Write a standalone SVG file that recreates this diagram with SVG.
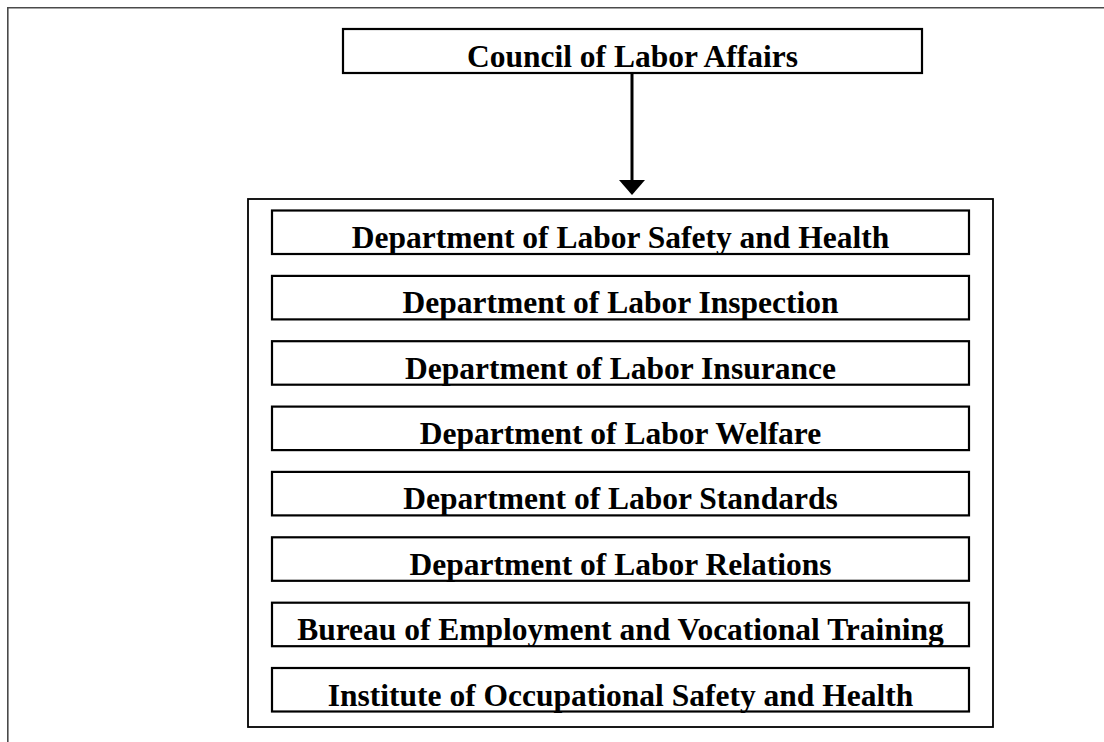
<svg xmlns="http://www.w3.org/2000/svg" width="1104" height="742" viewBox="0 0 1104 742">
  <style>
    .box { fill: #ffffff; stroke: #000000; stroke-width: 2.2; }
    .frame { fill: #ffffff; stroke: #000000; stroke-width: 1.8; }
    .label { font-family: "Liberation Serif", "Times New Roman", serif; font-weight: bold; font-size: 31.5px; fill: #000000; text-anchor: middle; }
    .edge { stroke: #000000; stroke-width: 3; fill: none; }
  </style>
  <defs>
    <marker id="arrowhead" markerUnits="userSpaceOnUse" markerWidth="28" markerHeight="18" refX="13" refY="15" orient="auto-start-reverse" viewBox="0 0 26 15">
      <path d="M0,0 L26,0 L13,15 Z" fill="#000000"/>
    </marker>
  </defs>

  <rect width="1104" height="742" fill="#ffffff"/>
  <!-- page edge -->
  <path d="M7.8,742 V7.8 H1104" fill="none" stroke="#4a4a4a" stroke-width="1.6"/>

  <!-- top-level council -->
  <g id="council">
    <rect class="box" x="343" y="29" width="579" height="44"/>
    <text class="label" x="632.5" y="67">Council of Labor Affairs</text>
  </g>

  <!-- connector from council to its subordinate units -->
  <g id="connectors">
    <line class="edge" x1="632" y1="73" x2="632" y2="181"/>
    <path d="M619,180 L645,180 L632,195 Z" fill="#000000"/>
  </g>

  <!-- container of subordinate units -->
  <g id="units-frame">
    <rect class="frame" x="248" y="199" width="745" height="528"/>
  </g>

  <g id="dept-safety-health">
    <rect class="box" x="272" y="210.5" width="697" height="43.5"/>
    <text class="label" x="620.5" y="248">Department of Labor Safety and Health</text>
  </g>
  <g id="dept-inspection">
    <rect class="box" x="272" y="275.9" width="697" height="43.5"/>
    <text class="label" x="620.5" y="313.4">Department of Labor Inspection</text>
  </g>
  <g id="dept-insurance">
    <rect class="box" x="272" y="341.2" width="697" height="43.5"/>
    <text class="label" x="620.5" y="378.7">Department of Labor Insurance</text>
  </g>
  <g id="dept-welfare">
    <rect class="box" x="272" y="406.6" width="697" height="43.5"/>
    <text class="label" x="620.5" y="444.1">Department of Labor Welfare</text>
  </g>
  <g id="dept-standards">
    <rect class="box" x="272" y="471.9" width="697" height="43.5"/>
    <text class="label" x="620.5" y="509.4">Department of Labor Standards</text>
  </g>
  <g id="dept-relations">
    <rect class="box" x="272" y="537.3" width="697" height="43.5"/>
    <text class="label" x="620.5" y="574.8">Department of Labor Relations</text>
  </g>
  <g id="bureau-employment">
    <rect class="box" x="272" y="602.7" width="697" height="43.5"/>
    <text class="label" x="620.5" y="640.2">Bureau of Employment and Vocational Training</text>
  </g>
  <g id="institute-osh">
    <rect class="box" x="272" y="668" width="697" height="43.5"/>
    <text class="label" x="620.5" y="705.5">Institute of Occupational Safety and Health</text>
  </g>
</svg>
